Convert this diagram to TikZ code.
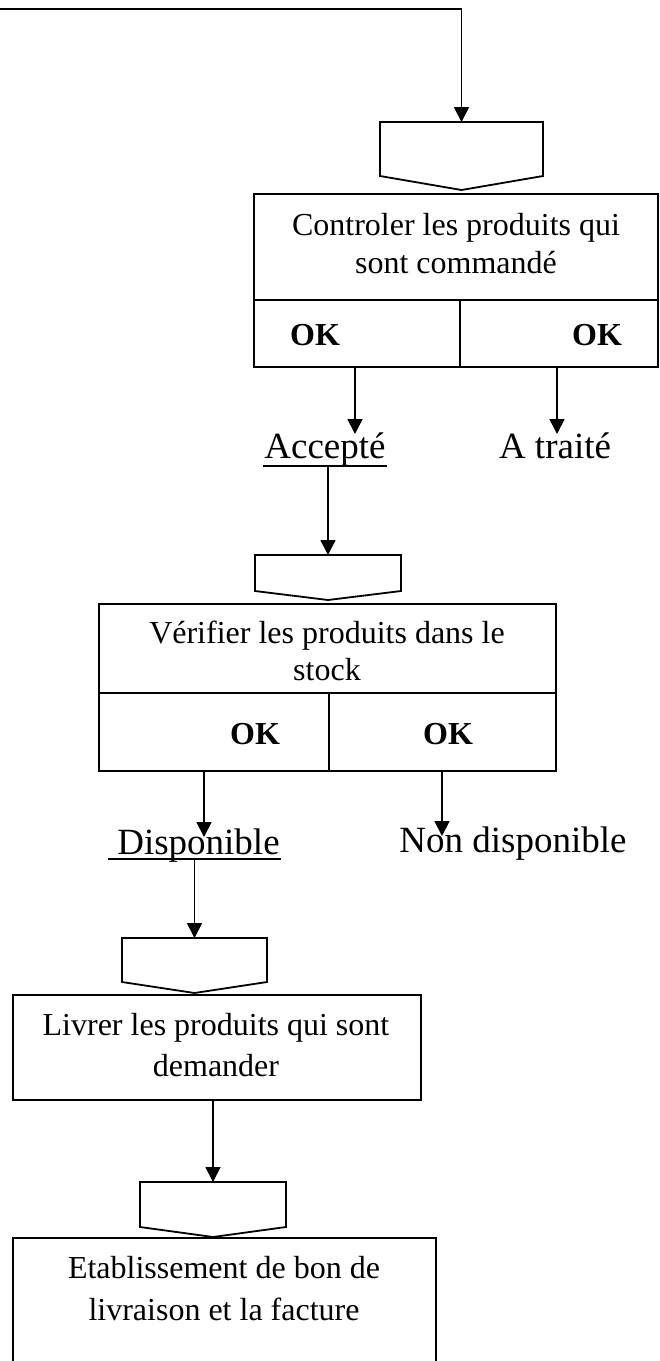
\documentclass[tikz,border=0pt]{standalone}
\usepackage{fontspec}
\setmainfont{Liberation Serif}
\usetikzlibrary{arrows.meta,calc}
\tikzset{
  procbox/.style={draw, line width=1.8pt, inner sep=0pt, outer sep=0pt},
  evtbox/.style={inner sep=0pt, outer sep=0pt},
  evtline/.style={line width=1.8pt, line join=miter},
  arr/.style={line width=1.8pt, -{Triangle[length=15pt,width=15pt]}},
  rule/.style={line width=1.8pt},
  body/.style={font=\fontsize{32}{38}\selectfont, inner sep=0pt, anchor=base},
  oklabel/.style={font=\fontsize{32}{38}\selectfont\bfseries, inner sep=0pt, anchor=base},
  outcome/.style={font=\fontsize{37}{44}\selectfont, inner sep=0pt, anchor=base},
}
\begin{document}
\begin{tikzpicture}[x=1pt,y=-1pt]
\fill[white] (0,0) rectangle (660,1361);
\useasboundingbox (0,0) rectangle (660,1361);
\clip (0,0) rectangle (660,1361);

% event symbols (flat top, pointed bottom)
\node[evtbox, minimum width=163pt, minimum height=54pt] (e1) at (461.5,149) {};
\draw[evtline] (e1.south west) -- (e1.north west) -- (e1.north east) -- (e1.south east) -- ($(e1.south)+(0,14)$) -- cycle;
\node[evtbox, minimum width=146pt, minimum height=36pt] (e2) at (328,573) {};
\draw[evtline] (e2.south west) -- (e2.north west) -- (e2.north east) -- (e2.south east) -- ($(e2.south)+(0,9)$) -- cycle;
\node[evtbox, minimum width=145pt, minimum height=44pt] (e3) at (194.5,960) {};
\draw[evtline] (e3.south west) -- (e3.north west) -- (e3.north east) -- (e3.south east) -- ($(e3.south)+(0,11)$) -- cycle;
\node[evtbox, minimum width=146pt, minimum height=45pt] (e4) at (213,1204.5) {};
\draw[evtline] (e4.south west) -- (e4.north west) -- (e4.north east) -- (e4.south east) -- ($(e4.south)+(0,10)$) -- cycle;

% operation boxes
\node[procbox, minimum width=404pt, minimum height=173pt] (c1) at (456,280.5) {};
\draw[rule] (254,300) -- (658,300);
\draw[rule] (460,300) -- (460,367);
\node[body] (c1t1) at (456,235) {Controler les produits qui};
\node[body] (c1t2) at (456,273) {sont commandé};
\node[oklabel] (c1ok1) at (315,345) {OK};
\node[oklabel] (c1ok2) at (597,345) {OK};

\node[procbox, minimum width=457pt, minimum height=167pt] (c2) at (327.5,687.5) {};
\draw[rule] (99,693) -- (556,693);
\draw[rule] (329,693) -- (329,771);
\node[body] (c2t1) at (327,643) {Vérifier les produits dans le};
\node[body] (c2t2) at (327,680) {stock};
\node[oklabel] (c2ok1) at (255,744) {OK};
\node[oklabel] (c2ok2) at (448,744) {OK};

\node[procbox, minimum width=408pt, minimum height=105pt] (c3) at (217,1047.5) {};
\node[body] (c3t1) at (216,1035) {Livrer les produits qui sont};
\node[body] (c3t2) at (216,1076) {demander};

\node[procbox, minimum width=423pt, minimum height=182pt] (c4) at (224.5,1329) {};
\node[body] (c4t1) at (224,1278) {Etablissement de bon de};
\node[body] (c4t2) at (224,1320) {livraison et la facture};

% outcomes
\node[outcome] (acc) at (325,458) {Accepté};
\draw[rule] (263,466) -- (387,466);
\node[outcome] (trt) at (555,458) {A traité};
\node[outcome] (dispo) at (198.5,854) {Disponible};
\draw[rule] (108,859) -- (281,859);
\node[outcome] (nondispo) at (513,852) {Non disponible};

% connector end points
\coordinate (src) at (0,9);
\coordinate (c1a) at (355,367);
\coordinate (c1b) at (557,367);
\coordinate (acctop) at (355,434);
\coordinate (trttop) at (557,434);
\coordinate (accbot) at (328,466);
\coordinate (c2a) at (204,771);
\coordinate (c2b) at (442,771);
\coordinate (dispotop) at (204,837);
\coordinate (nondispotop) at (442,836);
\coordinate (dispobot) at (194.5,859);
\coordinate (c3out) at (213,1100);

% connectors
\draw[arr] (src) -| (e1.north);
\draw[arr] (c1a) -- (acctop);
\draw[arr] (c1b) -- (trttop);
\draw[arr] (accbot) -- (e2.north);
\draw[arr] (c2a) -- (dispotop);
\draw[arr] (c2b) -- (nondispotop);
\draw[arr] (dispobot) -- (e3.north);
\draw[arr] (c3out) -- (e4.north);
\end{tikzpicture}
\end{document}
